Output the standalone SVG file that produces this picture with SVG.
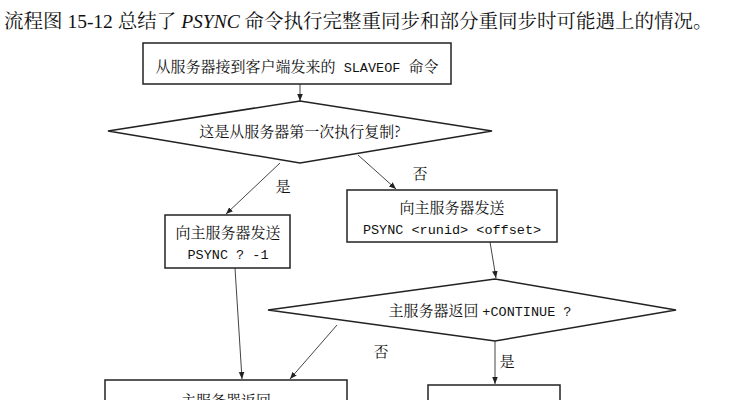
<svg xmlns="http://www.w3.org/2000/svg" width="750" height="400" viewBox="0 0 750 400">
<defs>
<style>
.b{fill:#fff;stroke:#222;stroke-width:1.5}
.l{stroke:#444;stroke-width:1;fill:none;marker-end:url(#a)}
.t{font-family:"Noto Serif CJK SC","Noto Sans CJK SC",serif;font-size:15px;fill:#111}
.m{font-family:"Liberation Mono","Noto Sans CJK SC",monospace;font-size:13.5px;fill:#111}
</style>
<marker id="a" viewBox="0 0 10 10" refX="10" refY="5" markerWidth="7" markerHeight="7" orient="auto"><path d="M0,1 L10,5 L0,9 z" fill="#222"/></marker>
</defs>
<rect width="750" height="400" fill="#fff"/>
<text x="4" y="28" style="font-family:'Liberation Serif','Noto Serif CJK SC','Noto Sans CJK SC',serif;font-size:19.5px" fill="#111">流程图 15-12 总结了 <tspan font-style="italic">PSYNC</tspan> 命令执行完整重同步和部分重同步时可能遇上的情况。</text>
<g id="connectors">
<line class="l" x1="300" y1="84" x2="300" y2="101"/>
<line class="l" x1="280" y1="163" x2="226" y2="214"/>
<line class="l" x1="358" y1="155" x2="396" y2="189"/>
<line class="l" x1="235" y1="268" x2="242" y2="379"/>
<line class="l" x1="490" y1="242" x2="496" y2="278"/>
<line class="l" x1="337" y1="325" x2="290" y2="379"/>
<line class="l" x1="495" y1="341" x2="495" y2="384"/>
<text class="t" x="283" y="192" text-anchor="middle">是</text>
<text class="t" x="420" y="179" text-anchor="middle">否</text>
<text class="t" x="381" y="357" text-anchor="middle">否</text>
<text class="t" x="507" y="367" text-anchor="middle">是</text>
</g>
<g id="start"><rect class="b" x="143" y="43" width="308" height="41"/>
<text class="m" x="297" y="72" text-anchor="middle"><tspan class="t">从服务器接到客户端发来的</tspan> SLAVEOF <tspan class="t">命令</tspan></text></g>
<g id="d1"><polygon class="b" points="108,131 300,101 492,131 300,163"/>
<text class="t" x="300" y="137" text-anchor="middle">这是从服务器第一次执行复制?</text></g>
<g id="full"><rect class="b" x="165" y="215" width="125" height="53"/>
<text class="t" x="228" y="238" text-anchor="middle">向主服务器发送</text>
<text class="m" x="228" y="259" text-anchor="middle">PSYNC ? -1</text></g>
<g id="partial"><rect class="b" x="347" y="190" width="210" height="52"/>
<text class="t" x="452" y="213" text-anchor="middle">向主服务器发送</text>
<text class="m" x="452" y="234" text-anchor="middle">PSYNC &lt;runid&gt; &lt;offset&gt;</text></g>
<g id="d2"><polygon class="b" points="268,310 495,279 676,310 495,341"/>
<text class="t" x="480" y="316" text-anchor="middle">主服务器返回 <tspan class="m">+CONTINUE ?</tspan></text></g>
<g id="fullres"><rect class="b" x="105" y="380" width="242" height="40"/>
<text class="t" x="226" y="406" text-anchor="middle">主服务器返回</text></g>
<g id="contres"><rect class="b" x="428" y="385" width="132" height="40"/></g>
</svg>
